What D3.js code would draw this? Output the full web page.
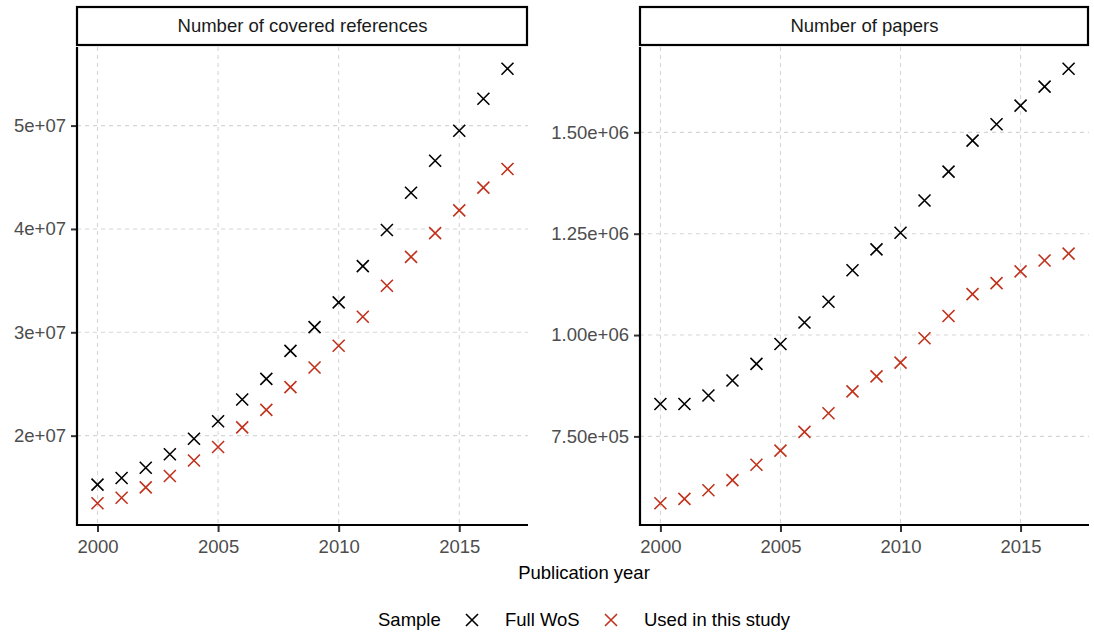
<!DOCTYPE html>
<html>
<head>
<meta charset="utf-8">
<script src="https://cdn.jsdelivr.net/npm/d3@7"></script>
<style>
  body { margin: 0; background: #fff; }
  svg text { font-family: "Liberation Sans", Arial, sans-serif; }
</style>
</head>
<body>
<svg id="chart" width="1094" height="634"></svg>
<script>
// Data
const years = d3.range(2000, 2018);

const refsFull = [1.526e7, 1.59e7, 1.69e7, 1.82e7, 1.97e7, 2.14e7, 2.35e7, 2.55e7, 2.82e7,
  3.05e7, 3.29e7, 3.64e7, 3.99e7, 4.35e7, 4.66e7, 4.95e7, 5.26e7, 5.55e7];
const refsUsed = [1.346e7, 1.40e7, 1.50e7, 1.61e7, 1.76e7, 1.89e7, 2.08e7, 2.25e7, 2.47e7,
  2.66e7, 2.87e7, 3.15e7, 3.45e7, 3.73e7, 3.96e7, 4.18e7, 4.40e7, 4.58e7];

const papersFull = [8.30e5, 8.30e5, 8.51e5, 8.88e5, 9.29e5, 9.78e5, 1.031e6, 1.082e6, 1.160e6,
  1.2115e6, 1.2525e6, 1.332e6, 1.403e6, 1.4795e6, 1.520e6, 1.566e6, 1.613e6, 1.657e6];
const papersUsed = [5.85e5, 5.96e5, 6.17e5, 6.42e5, 6.80e5, 7.15e5, 7.61e5, 8.07e5, 8.61e5,
  8.98e5, 9.32e5, 9.92e5, 1.047e6, 1.101e6, 1.128e6, 1.157e6, 1.184e6, 1.201e6];

const xTicks = [2000, 2005, 2010, 2015];
const refsTicks = [2e7, 3e7, 4e7, 5e7];
const refsTickLabels = ["2e+07", "3e+07", "4e+07", "5e+07"];
const papersTicks = [7.5e5, 1.0e6, 1.25e6, 1.5e6];
const papersTickLabels = ["7.50e+05", "1.00e+06", "1.25e+06", "1.50e+06"];

const sampleNames = ["Full WoS", "Used in this study"];
const sampleColors = ["#000000", "#c0321c"];

const panels = [
  { title: "Number of covered references", full: refsFull, used: refsUsed,
    ticks: refsTicks, labels: refsTickLabels, left: 77, right: 528 },
  { title: "Number of papers", full: papersFull, used: papersUsed,
    ticks: papersTicks, labels: papersTickLabels, left: 640, right: 1089 }
];

const svg = d3.select("#chart");
const plotTop = 47, plotBottom = 525;
const stripTop = 7, stripBottom = 45;
const cross = "M-6,-6L6,6M-6,6L6,-6";

// ggplot-like 5% expansion
function expand(ext) {
  const pad = (ext[1] - ext[0]) * 0.05;
  return [ext[0] - pad, ext[1] + pad];
}

panels.forEach(p => {
  const g = svg.append("g");

  const x = d3.scaleLinear()
    .domain(expand(d3.extent(years)))
    .range([p.left, p.right]);
  const y = d3.scaleLinear()
    .domain(expand(d3.extent(p.full.concat(p.used))))
    .range([plotBottom, plotTop]);

  // gridlines
  g.selectAll(".vgrid").data(xTicks).join("line")
    .attr("x1", d => x(d)).attr("x2", d => x(d))
    .attr("y1", plotTop).attr("y2", plotBottom)
    .attr("stroke", "#d6d6d6").attr("stroke-width", 1.1)
    .attr("stroke-dasharray", "4,4");
  g.selectAll(".hgrid").data(p.ticks).join("line")
    .attr("x1", p.left).attr("x2", p.right)
    .attr("y1", d => y(d)).attr("y2", d => y(d))
    .attr("stroke", "#d6d6d6").attr("stroke-width", 1.1)
    .attr("stroke-dasharray", "4,4");

  // axes
  const xAxis = g.append("g")
    .attr("transform", `translate(0,${plotBottom})`)
    .call(d3.axisBottom(x).tickValues(xTicks).tickFormat(d3.format("d")).tickSize(7).tickPadding(8));
  const yAxis = g.append("g")
    .attr("transform", `translate(${p.left},0)`)
    .call(d3.axisLeft(y).tickValues(p.ticks).tickFormat((d, i) => p.labels[i]).tickSize(6).tickPadding(5));

  [xAxis, yAxis].forEach(a => {
    a.select(".domain").remove();
    a.selectAll(".tick line").attr("stroke", "#333").attr("stroke-width", 2);
    a.selectAll(".tick text").attr("fill", "#4d4d4d").attr("font-size", 18.5);
  });

  // axis lines (L shape, like theme_classic)
  g.append("line").attr("x1", p.left).attr("x2", p.left)
    .attr("y1", plotTop).attr("y2", plotBottom + 1)
    .attr("stroke", "#000").attr("stroke-width", 2.2);
  g.append("line").attr("x1", p.left - 1).attr("x2", p.right)
    .attr("y1", plotBottom).attr("y2", plotBottom)
    .attr("stroke", "#000").attr("stroke-width", 2.2);

  // strip
  g.append("rect")
    .attr("x", p.left).attr("y", stripTop)
    .attr("width", p.right - 1 - p.left).attr("height", stripBottom - stripTop)
    .attr("fill", "#fff").attr("stroke", "#000").attr("stroke-width", 2.2);
  g.append("text")
    .attr("x", (p.left + p.right) / 2).attr("y", (stripTop + stripBottom) / 2)
    .attr("dy", "0.35em").attr("text-anchor", "middle")
    .attr("font-size", 18.5).attr("fill", "#1a1a1a")
    .text(p.title);

  // points
  const series = [p.full, p.used];
  series.forEach((vals, si) => {
    g.append("g").selectAll("path").data(vals).join("path")
      .attr("transform", (d, i) => `translate(${x(years[i])},${y(d)})`)
      .attr("d", cross)
      .attr("stroke", sampleColors[si]).attr("stroke-width", 1.6)
      .attr("fill", "none");
  });
});

// x axis title
svg.append("text")
  .attr("x", 584).attr("y", 573)
  .attr("dy", "0.35em")
  .attr("text-anchor", "middle").attr("font-size", 18.5).attr("fill", "#000")
  .text("Publication year");

// legend
const legend = svg.append("g").attr("transform", "translate(0,620)");
legend.append("text").attr("x", 378).attr("dy", "0.35em")
  .attr("font-size", 18.5).attr("fill", "#000").text("Sample");
const legendPos = [472, 611];
sampleNames.forEach((name, i) => {
  legend.append("path")
    .attr("transform", `translate(${legendPos[i]},0)`)
    .attr("d", cross)
    .attr("stroke", sampleColors[i]).attr("stroke-width", 1.6);
  legend.append("text").attr("x", legendPos[i] + 33).attr("dy", "0.35em")
    .attr("font-size", 18.5).attr("fill", "#000").text(name);
});
</script>
</body>
</html>
